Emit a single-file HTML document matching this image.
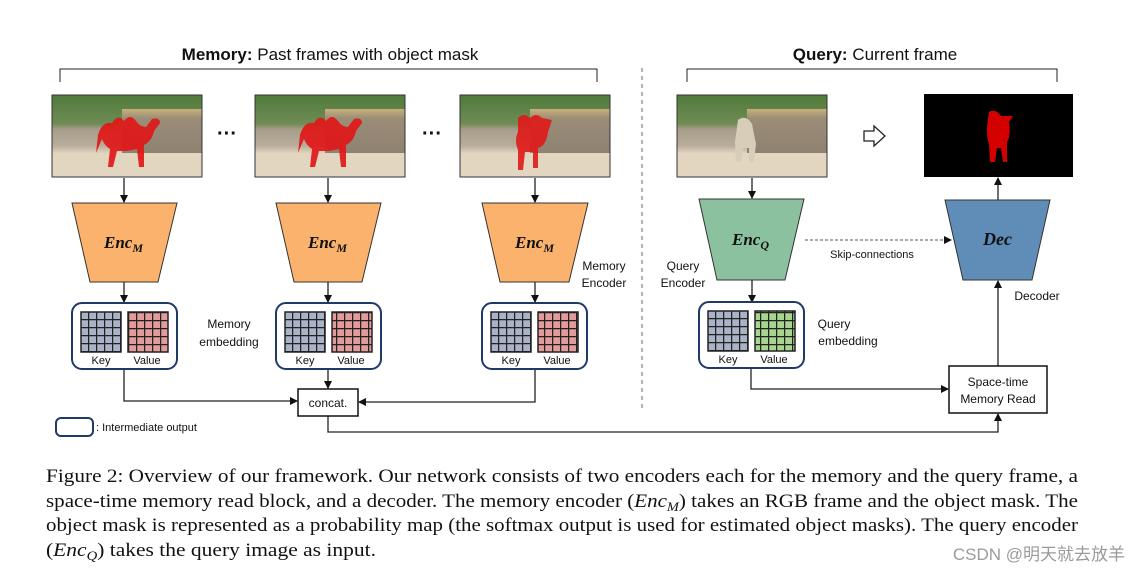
<!DOCTYPE html>
<html><head><meta charset="utf-8"><style>
html,body{margin:0;padding:0;background:#fff;width:1142px;height:575px;overflow:hidden}
svg{display:block}
.s{font-family:"Liberation Sans",sans-serif;fill:#111}
.c{font-family:"Liberation Serif",serif;font-size:19px;fill:#111}
</style></head><body>
<svg width="1142" height="575" viewBox="0 0 1142 575" xmlns="http://www.w3.org/2000/svg">
<defs>
<marker id="a" markerWidth="8" markerHeight="8" refX="7" refY="4" orient="auto" markerUnits="userSpaceOnUse"><path d="M0,0 L8,4 L0,8 z" fill="#111"/></marker>
<linearGradient id="ph" x1="0" y1="0" x2="0" y2="1">
<stop offset="0" stop-color="#4f7a3a"/><stop offset="0.35" stop-color="#6f8c55"/><stop offset="0.42" stop-color="#a89d8a"/><stop offset="0.62" stop-color="#b8ad9c"/><stop offset="0.7" stop-color="#ddd0b8"/><stop offset="1" stop-color="#e8dcc6"/></linearGradient>
<linearGradient id="fe" x1="0" y1="0" x2="0" y2="1"><stop offset="0" stop-color="#c9b07a"/><stop offset="0.2" stop-color="#9c8d78"/><stop offset="1" stop-color="#8d8170"/></linearGradient>
<pattern id="gb" width="8" height="8" patternUnits="userSpaceOnUse"><rect width="8" height="8" fill="#a9b3c8"/><path d="M0,0H8M0,0V8" stroke="#222" stroke-width="2.5"/></pattern>
<pattern id="gr" width="8" height="8" patternUnits="userSpaceOnUse"><rect width="8" height="8" fill="#e39a9a"/><path d="M0,0H8M0,0V8" stroke="#222" stroke-width="2.5"/></pattern>
<pattern id="gg" width="8" height="8" patternUnits="userSpaceOnUse"><rect width="8" height="8" fill="#a8d590"/><path d="M0,0H8M0,0V8" stroke="#222" stroke-width="2.5"/></pattern>
<g id="photo">
<rect x="0" y="0" width="150" height="82" fill="url(#ph)"/>
<rect x="70" y="14" width="80" height="46" fill="url(#fe)"/>
<rect x="0" y="58" width="150" height="24" fill="#e2d6c0"/>
<rect x="0" y="0" width="150" height="82" fill="none" stroke="#333" stroke-width="1"/>
</g>
<g id="emb">
<rect x="0" y="0" width="105" height="66" rx="10" fill="#fff" stroke="#1f3a6a" stroke-width="2"/>
<rect x="9" y="9" width="40" height="40" fill="url(#gb)" stroke="#222" stroke-width="1.5"/>
<text x="29" y="61" class="s" font-size="11" text-anchor="middle">Key</text>
<text x="75" y="61" class="s" font-size="11" text-anchor="middle">Value</text>
</g>
<path id="camel" d="M0,20 q4,-14 14,-12 q6,-10 12,-2 q6,-8 12,0 q4,6 10,6 l6,-8 q8,-2 8,4 l-6,8 q-2,10 -10,14 l0,22 -5,0 -2,-18 -10,2 -10,0 -4,16 -5,0 2,-18 q-6,-4 -8,-10 l-6,14 z" fill="#e01818" opacity="0.92"/>
</defs>

<text x="330" y="60" class="s" font-size="17" text-anchor="middle"><tspan font-weight="bold">Memory:</tspan> Past frames with object mask</text>
<text x="875" y="60" class="s" font-size="17" text-anchor="middle"><tspan font-weight="bold">Query:</tspan> Current frame</text>
<path d="M60,82 V69 H597 V82" fill="none" stroke="#222" stroke-width="1"/>
<path d="M687,82 V69 H1057 V82" fill="none" stroke="#222" stroke-width="1"/>
<line x1="642" y1="68" x2="642" y2="412" stroke="#999" stroke-width="1.5" stroke-dasharray="4,4"/>

<use href="#photo" x="52" y="95"/>
<use href="#photo" x="255" y="95"/>
<use href="#photo" x="460" y="95"/>
<use href="#photo" x="677" y="95"/>
<use href="#camel" x="98" y="115"/>
<use href="#camel" x="300" y="115"/>
<path d="M518,118 q6,-6 12,0 q6,-6 12,0 l10,2 l-4,12 q-2,14 -10,16 l0,20 -5,0 0,-16 -8,0 -2,18 -5,0 0,-20 q-4,-10 0,-18 z" fill="#e01818" opacity="0.9"/>
<path d="M738,120 q8,-6 14,4 l4,20 -2,18 -5,0 0,-14 -6,0 -2,14 -5,0 -1,-20 z" fill="#d8cdb8"/>
<rect x="924" y="94" width="149" height="83" fill="#000"/>
<path d="M989,112 q6,-4 12,4 l12,0 -4,6 q2,14 -2,20 l0,20 -4,0 -2,-14 -4,0 -2,14 -5,0 -1,-18 q-4,-10 0,-32 z" fill="#d40000"/>
<text x="227" y="140" class="s" font-size="20" font-weight="bold" text-anchor="middle">···</text>
<text x="432" y="140" class="s" font-size="20" font-weight="bold" text-anchor="middle">···</text>
<path d="M864,131 h10 v-5 l11,10 -11,10 v-5 h-10 z" fill="#fff" stroke="#222" stroke-width="1.3"/>

<g stroke="#222" stroke-width="1.3" fill="none" marker-end="url(#a)">
<line x1="124" y1="178" x2="124" y2="202"/>
<line x1="328" y1="178" x2="328" y2="202"/>
<line x1="535" y1="178" x2="535" y2="202"/>
<line x1="752" y1="178" x2="752" y2="198"/>
<line x1="124" y1="282" x2="124" y2="302"/>
<line x1="328" y1="282" x2="328" y2="302"/>
<line x1="535" y1="282" x2="535" y2="302"/>
<line x1="752" y1="280" x2="752" y2="302"/>
<line x1="998" y1="200" x2="998" y2="178"/>
<line x1="998" y1="366" x2="998" y2="281"/>
<line x1="328" y1="369" x2="328" y2="388"/>
<path d="M124,369 V401 H297"/>
<path d="M535,369 V402 H359"/>
<path d="M328,416 V432 H998 V414"/>
<path d="M751,368 V389 H948"/>
</g>
<line x1="805" y1="240" x2="951" y2="240" stroke="#555" stroke-width="1" stroke-dasharray="3,2" marker-end="url(#a)"/>

<polygon points="72,203 177,203 158,282 90,282" fill="#fbb26c" stroke="#333" stroke-width="1"/>
<polygon points="276,203 381,203 362,282 294,282" fill="#fbb26c" stroke="#333" stroke-width="1"/>
<polygon points="482,203 588,203 569,282 500,282" fill="#fbb26c" stroke="#333" stroke-width="1"/>
<polygon points="699,199 804,199 785,280 717,280" fill="#8cc1a0" stroke="#333" stroke-width="1"/>
<polygon points="945,200 1050,200 1032,280 963,280" fill="#5f8db8" stroke="#333" stroke-width="1"/>
<g font-family="Liberation Serif,serif" font-weight="bold" font-style="italic" font-size="17" fill="#111">
<text x="104" y="248">Enc<tspan font-size="12" dy="4">M</tspan></text>
<text x="308" y="248">Enc<tspan font-size="12" dy="4">M</tspan></text>
<text x="515" y="248">Enc<tspan font-size="12" dy="4">M</tspan></text>
<text x="732" y="245">Enc<tspan font-size="12" dy="4">Q</tspan></text>
<text x="983" y="245" font-size="18">Dec</text>
</g>

<use href="#emb" x="72" y="303"/><rect x="128" y="312" width="40" height="40" fill="url(#gr)" stroke="#222" stroke-width="1.5"/>
<use href="#emb" x="276" y="303"/><rect x="332" y="312" width="40" height="40" fill="url(#gr)" stroke="#222" stroke-width="1.5"/>
<use href="#emb" x="482" y="303"/><rect x="538" y="312" width="40" height="40" fill="url(#gr)" stroke="#222" stroke-width="1.5"/>
<use href="#emb" x="699" y="302"/><rect x="755" y="311" width="40" height="40" fill="url(#gg)" stroke="#222" stroke-width="1.5"/>

<rect x="298" y="389" width="60" height="27" fill="#fff" stroke="#111" stroke-width="1.5"/>
<text x="328" y="407" class="s" font-size="12" text-anchor="middle">concat.</text>
<rect x="949" y="366" width="98" height="47" fill="#fff" stroke="#111" stroke-width="1.5"/>
<text x="998" y="386" class="s" font-size="12" text-anchor="middle">Space-time</text>
<text x="998" y="403" class="s" font-size="12" text-anchor="middle">Memory Read</text>

<g class="s" font-size="12" text-anchor="middle">
<text x="229" y="328">Memory</text><text x="229" y="346">embedding</text>
<text x="604" y="270">Memory</text><text x="604" y="287">Encoder</text>
<text x="683" y="270">Query</text><text x="683" y="287">Encoder</text>
<text x="834" y="328">Query</text><text x="848" y="345">embedding</text>
<text x="872" y="258" font-size="11">Skip-connections</text>
<text x="1037" y="300">Decoder</text>
</g>
<rect x="56" y="418" width="37" height="18" rx="5" fill="#fff" stroke="#1f3a6a" stroke-width="2"/>
<text x="96" y="431" class="s" font-size="11">: Intermediate output</text>

<text x="46" y="482" class="c" textLength="1032" lengthAdjust="spacingAndGlyphs">Figure 2: Overview of our framework. Our network consists of two encoders each for the memory and the query frame, a</text>
<text x="46" y="507" class="c" textLength="1032" lengthAdjust="spacingAndGlyphs">space-time memory read block, and a decoder. The memory encoder (<tspan font-style="italic">Enc</tspan><tspan font-style="italic" font-size="13" dy="4">M</tspan><tspan dy="-4">) takes an RGB frame and the object mask. The</tspan></text>
<text x="46" y="531" class="c" textLength="1032" lengthAdjust="spacingAndGlyphs">object mask is represented as a probability map (the softmax output is used for estimated object masks). The query encoder</text>
<text x="46" y="556" class="c" textLength="330" lengthAdjust="spacingAndGlyphs">(<tspan font-style="italic">Enc</tspan><tspan font-style="italic" font-size="13" dy="4">Q</tspan><tspan dy="-4">) takes the query image as input.</tspan></text>
<text x="1125" y="560" font-family="Liberation Sans,Noto Sans CJK SC,sans-serif" font-size="17" fill="#9a9a9a" text-anchor="end">CSDN @明天就去放羊</text>
</svg>
</body></html>
